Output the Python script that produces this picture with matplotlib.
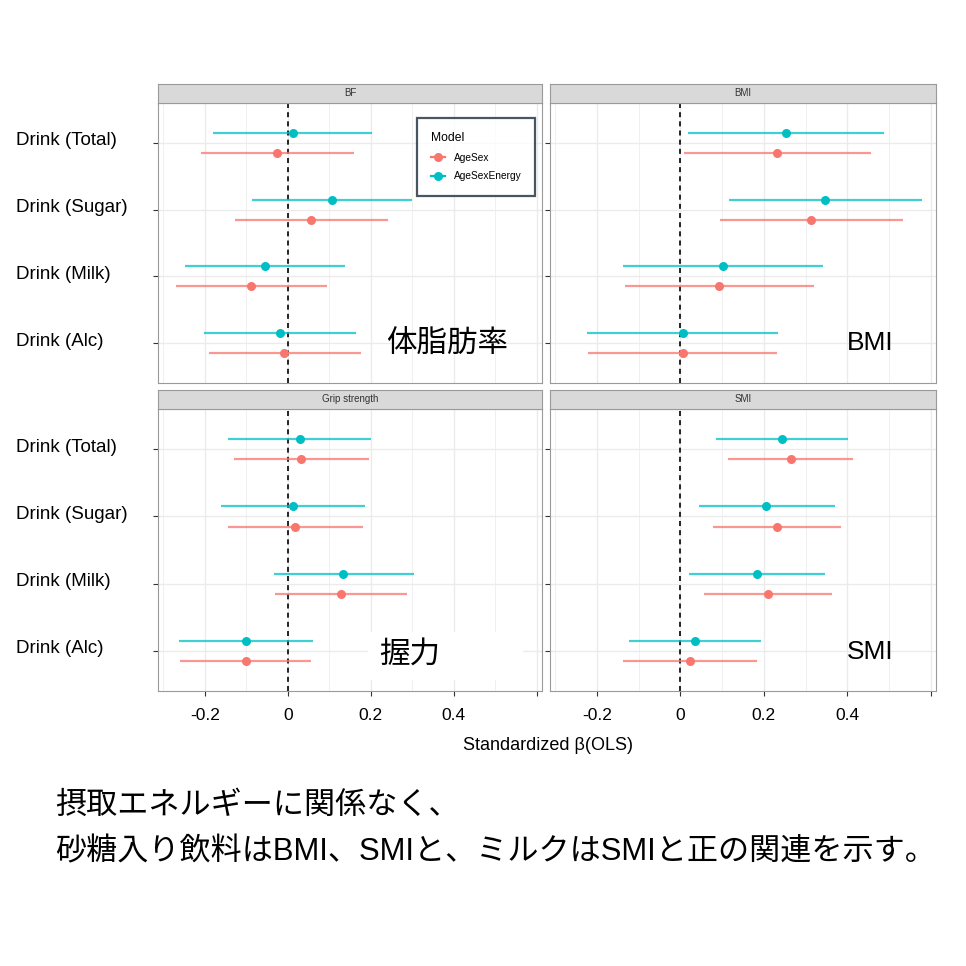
import numpy as np
import matplotlib
matplotlib.use('Agg')
import matplotlib.pyplot as plt
from matplotlib.lines import Line2D
from matplotlib.patches import Rectangle
import matplotlib.transforms as mtransforms

plt.rcParams['font.family'] = ['Liberation Sans', 'Noto Sans CJK JP', 'DejaVu Sans']

# data: estimate, lower, upper per outcome and model
drinks = ['Drink (Total)', 'Drink (Sugar)', 'Drink (Milk)', 'Drink (Alc)']
outcomes = ['BF', 'BMI', 'Grip strength', 'SMI']
models = ['AgeSex', 'AgeSexEnergy']

bf_agesex_est = [-0.027, 0.056, -0.089, -0.008]
bf_agesex_lo = [-0.210, -0.128, -0.270, -0.191]
bf_agesex_hi = [0.160, 0.241, 0.094, 0.176]
bf_energy_est = [0.012, 0.106, -0.056, -0.019]
bf_energy_lo = [-0.181, -0.087, -0.247, -0.202]
bf_energy_hi = [0.204, 0.300, 0.137, 0.165]

bmi_agesex_est = [0.232, 0.313, 0.093, 0.005]
bmi_agesex_lo = [0.009, 0.095, -0.134, -0.223]
bmi_agesex_hi = [0.457, 0.533, 0.321, 0.232]
bmi_energy_est = [0.253, 0.347, 0.103, 0.005]
bmi_energy_lo = [0.019, 0.117, -0.138, -0.225]
bmi_energy_hi = [0.488, 0.580, 0.343, 0.235]

grip_agesex_est = [0.033, 0.018, 0.128, -0.101]
grip_agesex_lo = [-0.130, -0.145, -0.031, -0.261]
grip_agesex_hi = [0.195, 0.181, 0.287, 0.057]
grip_energy_est = [0.029, 0.013, 0.134, -0.100]
grip_energy_lo = [-0.143, -0.160, -0.033, -0.262]
grip_energy_hi = [0.200, 0.185, 0.304, 0.060]

smi_agesex_est = [0.264, 0.231, 0.209, 0.022]
smi_agesex_lo = [0.113, 0.077, 0.056, -0.138]
smi_agesex_hi = [0.415, 0.385, 0.364, 0.183]
smi_energy_est = [0.244, 0.206, 0.184, 0.036]
smi_energy_lo = [0.086, 0.045, 0.021, -0.124]
smi_energy_hi = [0.402, 0.370, 0.347, 0.194]

panel_data = {
    'BF': [(bf_agesex_est, bf_agesex_lo, bf_agesex_hi), (bf_energy_est, bf_energy_lo, bf_energy_hi)],
    'BMI': [(bmi_agesex_est, bmi_agesex_lo, bmi_agesex_hi), (bmi_energy_est, bmi_energy_lo, bmi_energy_hi)],
    'Grip strength': [(grip_agesex_est, grip_agesex_lo, grip_agesex_hi), (grip_energy_est, grip_energy_lo, grip_energy_hi)],
    'SMI': [(smi_agesex_est, smi_agesex_lo, smi_agesex_hi), (smi_energy_est, smi_energy_lo, smi_energy_hi)],
}
jp_labels = {'BF': '体脂肪率', 'BMI': 'BMI', 'Grip strength': '握力', 'SMI': 'SMI'}

colors = ['#F8766D', '#00BFC4']
offsets = [-0.15, 0.15]   # y offset (AgeSex below, AgeSexEnergy above)
jp_font = ['Liberation Sans', 'Noto Sans CJK JP', 'DejaVu Sans']

W = 966.0
fig = plt.figure(figsize=(9.66, 9.66), dpi=100)

def fbox(x0, y0, x1, y1):
    # pixel box -> figure fraction [left, bottom, width, height]
    return [x0 / W, 1 - y1 / W, (x1 - x0) / W, (y1 - y0) / W]

panel_px = {
    'BF': (158, 103, 542, 383),
    'BMI': (550, 103, 936, 383),
    'Grip strength': (158, 409, 542, 691),
    'SMI': (550, 409, 936, 691),
}

xticks = [-0.2, 0, 0.2, 0.4, 0.6]
xticklabels = ['-0.2', '0', '0.2', '0.4', '']
ypos = np.arange(len(drinks), 0, -1)   # Total at top

for i, name in enumerate(outcomes):
    x0, y0, x1, y1 = panel_px[name]
    ax = fig.add_axes(fbox(x0, y0, x1, y1))
    sax = fig.add_axes(fbox(x0, y0 - 19, x1, y0))
    sax.set_facecolor('#D9D9D9')
    sax.set_xticks([])
    sax.set_yticks([])
    for sp in sax.spines.values():
        sp.set_color('#9a9a9a')
        sp.set_linewidth(0.8)
    sax.text(0.5, 0.5, name, ha='center', va='center', fontsize=7, color='#333333',
             transform=sax.transAxes)

    for m, (est, lo, hi) in enumerate(panel_data[name]):
        y = ypos + offsets[m]
        ax.hlines(y, lo, hi, color=colors[m], lw=1.6, alpha=0.75, zorder=3)
        ax.plot(est, y, 'o', color=colors[m], ms=6.5, zorder=4, mec='none')

    ax.axvline(0, color='black', ls=(0, (3, 2.5)), lw=1.2, zorder=2)
    ax.set_xlim(-0.313, 0.613)
    ax.set_ylim(0.4, 4.6)
    ax.set_yticks(ypos)
    ax.set_yticklabels([])
    ax.set_xticks(xticks)
    ax.set_xticks([-0.3, -0.1, 0.1, 0.3, 0.5], minor=True)
    ax.grid(True, which='major', color='#EBEBEB', lw=1.0, zorder=0)
    ax.grid(True, which='minor', axis='x', color='#F0F0F0', lw=0.7, zorder=0)
    ax.set_axisbelow(True)
    ax.tick_params(axis='y', length=3.5, color='#333333')
    ax.tick_params(axis='x', which='minor', length=0)
    for sp in ax.spines.values():
        sp.set_color('#9a9a9a')
        sp.set_linewidth(0.8)
    if i >= 2:
        ax.set_xticklabels(xticklabels, fontsize=12.5, color='black')
        ax.tick_params(axis='x', which='major', length=3.5, color='#333333', pad=9)
    else:
        ax.set_xticklabels([])
        ax.tick_params(axis='x', which='major', length=0)

    # drink labels on the far left
    if i % 2 == 0:
        tr = mtransforms.blended_transform_factory(fig.transFigure, ax.transData)
        for lab, yy in zip(drinks, ypos):
            fig.text(16 / W, yy + 0.03, lab, transform=tr, ha='left', va='center',
                     fontsize=13.5, color='black')

    if name == 'BF':
        handles = [Line2D([], [], color=c, marker='o', lw=1.6, ms=6.5, mec='none')
                   for c in colors]
        leg = ax.legend(handles, models, title='Model', loc='upper left',
                        bbox_to_anchor=(417 / W, 1 - 118 / W),
                        bbox_transform=fig.transFigure, fontsize=7.3,
                        title_fontsize=8.7, frameon=True, fancybox=False,
                        handlelength=1.4, handletextpad=0.8, borderpad=1.4,
                        borderaxespad=0, labelspacing=0.85, alignment='left')
        leg.get_frame().set_edgecolor('#1c2b39')
        leg.get_frame().set_linewidth(1.6)

# big Japanese annotations
fig.text(447 / W, 1 - 345 / W, jp_labels['BF'], ha='center', va='center',
         fontsize=22, family=jp_font)
fig.text(870 / W, 1 - 343 / W, jp_labels['BMI'], ha='center', va='center', fontsize=19)
fig.patches.append(Rectangle((368 / W, 1 - 680 / W), 155 / W, 48 / W,
                             transform=fig.transFigure, facecolor='white',
                             edgecolor='none', zorder=5))
fig.text(410 / W, 1 - 655 / W, jp_labels['Grip strength'], ha='center', va='center',
         fontsize=22, family=jp_font, zorder=6)
fig.text(870 / W, 1 - 652 / W, jp_labels['SMI'], ha='center', va='center', fontsize=19)

fig.text(548 / W, 1 - 745 / W, 'Standardized β(OLS)', ha='center', va='center', fontsize=13)

fig.text(55 / W, 1 - 806 / W, '摂取エネルギーに関係なく、', ha='left', va='center',
         fontsize=22.4, family=jp_font)
fig.text(55 / W, 1 - 852 / W, '砂糖入り飲料はBMI、SMIと、ミルクはSMIと正の関連を示す。',
         ha='left', va='center', fontsize=22.4, family=jp_font)

fig.savefig('out.png', dpi=100, facecolor='white')
